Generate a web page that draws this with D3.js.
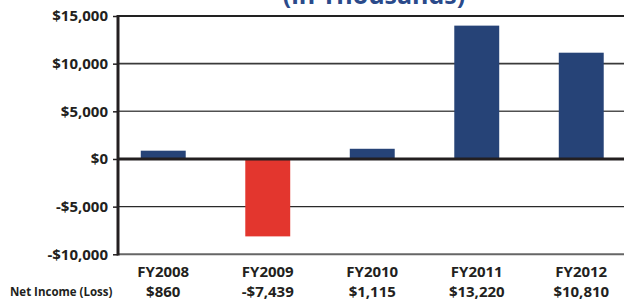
<!DOCTYPE html>
<html><head><meta charset="utf-8">
<script src="https://cdn.jsdelivr.net/npm/d3@7"></script>
<style>
html,body{margin:0;padding:0;background:#fff;overflow:hidden;}
svg{display:block;font-family:"Open Sans",sans-serif;}
</style></head>
<body>
<svg id="chart" width="624" height="300"></svg>
<script>
const categories = ["FY2008","FY2009","FY2010","FY2011","FY2012"];
const barValues = [870, -8120, 1070, 13990, 11150];
const valueLabels = ["$860","-$7,439","$1,115","$13,220","$10,810"];
const yTicks = [15000, 10000, 5000, 0, -5000, -10000];
const yTickLabels = ["$15,000","$10,000","$5,000","$0","-$5,000","-$10,000"];
const rowLabel = "Net Income (Loss)";
const titleText = "(in Thousands)";

const svg = d3.select("#chart");
const ink = "#231f20";

const x = d3.scaleBand().domain(categories).range([111, 633.5])
  .paddingInner(0.57).paddingOuter(0.285);
const y = d3.scaleLinear().domain([-10000, 15000]).range([254.3, 16]);

// title (clipped at top, as in the reference)
svg.append("text").attr("x", 374).attr("y", 3.5).attr("text-anchor", "middle")
  .attr("font-size", 25).attr("font-weight", 700).attr("fill", "#2a4a8a")
  .text(titleText);

// gridlines
const gridStyle = {
  "15000": {c: "#222", w: 2},
  "10000": {c: "#3a3a3a", w: 1.6},
  "5000": {c: "#505050", w: 1.6},
  "-5000": {c: "#2a2a2a", w: 1.4},
  "-10000": {c: "#666", w: 2}
};
svg.append("g").selectAll("line").data(yTicks.filter(d => d !== 0)).join("line")
  .attr("x1", 118).attr("x2", 624)
  .attr("y1", d => y(d)).attr("y2", d => y(d))
  .attr("stroke", d => gridStyle[d].c).attr("stroke-width", d => gridStyle[d].w);

// bars
svg.append("g").selectAll("rect").data(categories).join("rect")
  .attr("x", d => x(d))
  .attr("width", x.bandwidth())
  .attr("y", (d, i) => Math.min(y(barValues[i]), y(0)))
  .attr("height", (d, i) => Math.abs(y(barValues[i]) - y(0)))
  .attr("fill", (d, i) => barValues[i] < 0 ? "#e3362e" : "#264377");

// zero line
svg.append("line").attr("x1", 118).attr("x2", 624)
  .attr("y1", y(0)).attr("y2", y(0))
  .attr("stroke", ink).attr("stroke-width", 3);

// y axis
const yAxis = d3.axisLeft(y).tickValues(yTicks).tickSize(5).tickPadding(5)
  .tickFormat((d, i) => yTickLabels[i]);
const gy = svg.append("g").attr("transform", "translate(118,0)").call(yAxis);
gy.select(".domain").remove();
gy.selectAll(".tick line").attr("stroke", ink).attr("stroke-width", 1.5);
gy.selectAll(".tick text").attr("font-family", "'Open Sans',sans-serif")
  .attr("font-size", 15).attr("font-weight", 700).attr("fill", ink)
  .attr("dy", "0.33em");
svg.append("line").attr("x1", 118).attr("x2", 118)
  .attr("y1", 15).attr("y2", 255.5)
  .attr("stroke", ink).attr("stroke-width", 3);

// category labels
svg.append("g").selectAll("text").data(categories).join("text")
  .attr("x", d => x(d) + x.bandwidth() / 2).attr("y", 277)
  .attr("text-anchor", "middle").attr("font-size", 15).attr("font-weight", 700)
  .attr("fill", ink).text(d => d);

// value labels
svg.append("g").selectAll("text").data(valueLabels).join("text")
  .attr("x", (d, i) => x(categories[i]) + x.bandwidth() / 2).attr("y", 297)
  .attr("text-anchor", "middle").attr("font-size", 15).attr("font-weight", 700)
  .attr("fill", ink).text(d => d);

svg.append("text").attr("x", 10).attr("y", 296)
  .attr("font-size", 11.5).attr("font-weight", 700).attr("fill", ink)
  .text(rowLabel);
</script>
</body></html>
